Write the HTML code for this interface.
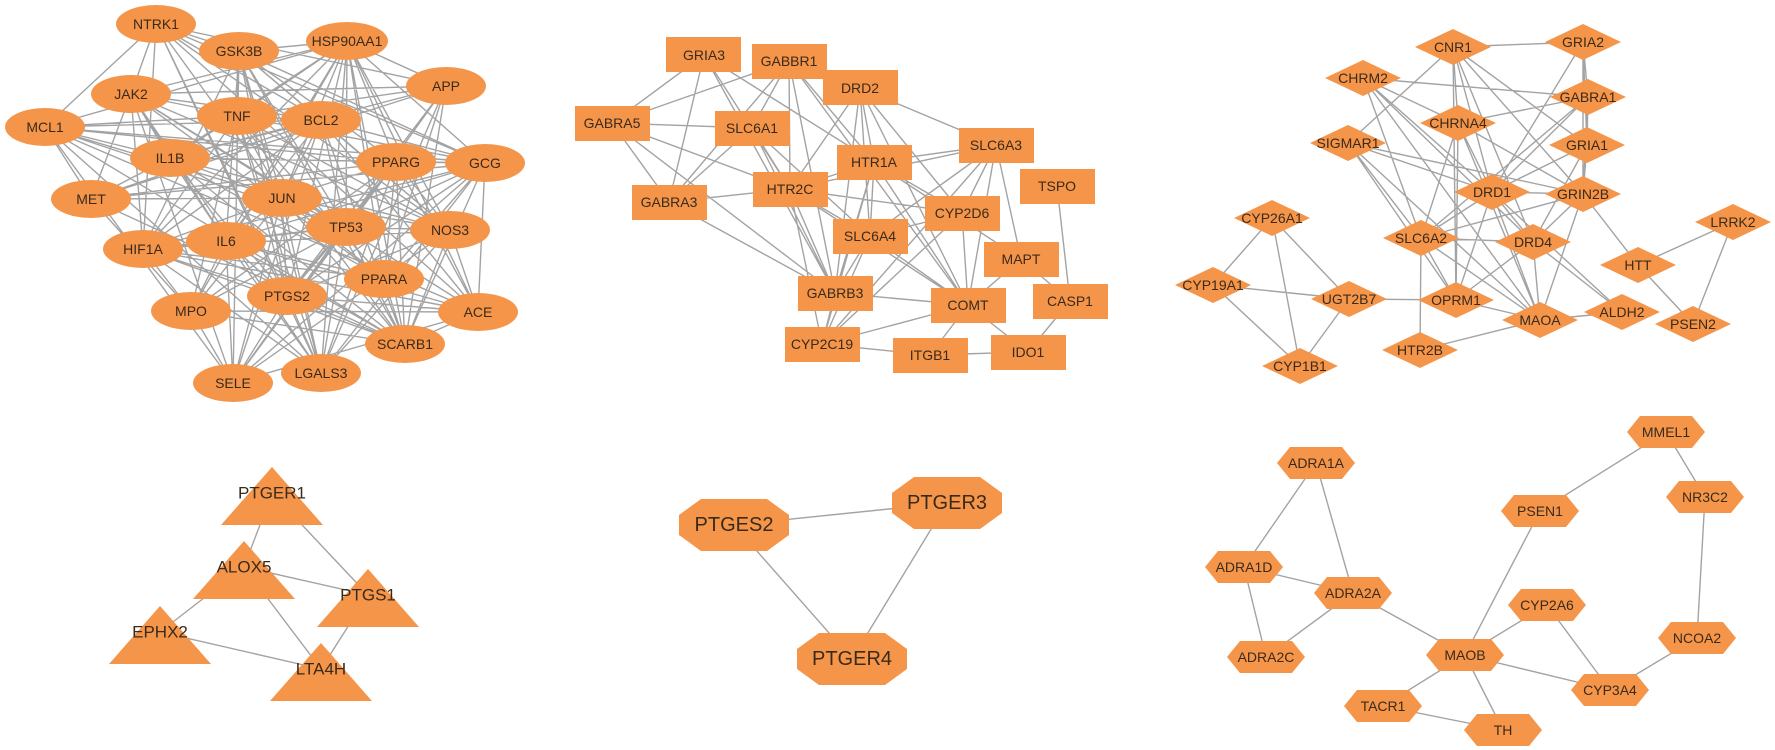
<!DOCTYPE html>
<html><head><meta charset="utf-8">
<style>
html,body{margin:0;padding:0;background:#fff;}
svg{display:block;}
text{font-family:"Liberation Sans",Arial,sans-serif;fill:#3a2a1a;text-anchor:middle;dominant-baseline:central;}
.n{fill:#F4954A;}
.s14{font-size:14px;}
.s17{font-size:17px;}
.s20{font-size:20px;}
</style></head><body>
<svg id="s" width="1775" height="750" viewBox="0 0 1775 750" xmlns="http://www.w3.org/2000/svg">
<g id="edges" stroke="#a3a3a3" stroke-width="1.4" fill="none"></g>
<g id="nodes">
<!-- cluster 1 ellipses -->
<g class="s14">
<ellipse class="n" cx="156" cy="24" rx="40" ry="19"/><text x="156" y="24">NTRK1</text>
<ellipse class="n" cx="239" cy="51" rx="40" ry="19"/><text x="239" y="51">GSK3B</text>
<ellipse class="n" cx="347" cy="41" rx="41" ry="19"/><text x="347" y="41">HSP90AA1</text>
<ellipse class="n" cx="131" cy="94" rx="40" ry="19"/><text x="131" y="94">JAK2</text>
<ellipse class="n" cx="45" cy="127" rx="40" ry="19"/><text x="45" y="127">MCL1</text>
<ellipse class="n" cx="237" cy="116" rx="40" ry="19"/><text x="237" y="116">TNF</text>
<ellipse class="n" cx="321" cy="120" rx="40" ry="19"/><text x="321" y="120">BCL2</text>
<ellipse class="n" cx="446" cy="86" rx="40" ry="19"/><text x="446" y="86">APP</text>
<ellipse class="n" cx="170" cy="158" rx="40" ry="19"/><text x="170" y="158">IL1B</text>
<ellipse class="n" cx="396" cy="162" rx="40" ry="19"/><text x="396" y="162">PPARG</text>
<ellipse class="n" cx="485" cy="163" rx="40" ry="19"/><text x="485" y="163">GCG</text>
<ellipse class="n" cx="91" cy="199" rx="40" ry="19"/><text x="91" y="199">MET</text>
<ellipse class="n" cx="282" cy="198" rx="40" ry="19"/><text x="282" y="198">JUN</text>
<ellipse class="n" cx="346" cy="227" rx="40" ry="19"/><text x="346" y="227">TP53</text>
<ellipse class="n" cx="450" cy="230" rx="40" ry="19"/><text x="450" y="230">NOS3</text>
<ellipse class="n" cx="143" cy="249" rx="40" ry="19"/><text x="143" y="249">HIF1A</text>
<ellipse class="n" cx="226" cy="241" rx="40" ry="19"/><text x="226" y="241">IL6</text>
<ellipse class="n" cx="384" cy="279" rx="40" ry="19"/><text x="384" y="279">PPARA</text>
<ellipse class="n" cx="287" cy="296" rx="40" ry="19"/><text x="287" y="296">PTGS2</text>
<ellipse class="n" cx="191" cy="311" rx="40" ry="19"/><text x="191" y="311">MPO</text>
<ellipse class="n" cx="478" cy="312" rx="40" ry="19"/><text x="478" y="312">ACE</text>
<ellipse class="n" cx="405" cy="344" rx="40" ry="19"/><text x="405" y="344">SCARB1</text>
<ellipse class="n" cx="233" cy="383" rx="40" ry="19"/><text x="233" y="383">SELE</text>
<ellipse class="n" cx="321" cy="373" rx="40" ry="19"/><text x="321" y="373">LGALS3</text>
</g>
<!-- cluster 2 rects 75x35 -->
<g class="s14">
<rect class="n" x="666" y="37" width="75" height="35"/><text x="704" y="55">GRIA3</text>
<rect class="n" x="752" y="44" width="75" height="35"/><text x="789" y="61">GABBR1</text>
<rect class="n" x="823" y="70" width="75" height="35"/><text x="860" y="88">DRD2</text>
<rect class="n" x="575" y="106" width="75" height="35"/><text x="612" y="123">GABRA5</text>
<rect class="n" x="715" y="111" width="75" height="35"/><text x="752" y="128">SLC6A1</text>
<rect class="n" x="837" y="145" width="75" height="35"/><text x="874" y="162">HTR1A</text>
<rect class="n" x="753" y="172" width="75" height="35"/><text x="790" y="189">HTR2C</text>
<rect class="n" x="632" y="185" width="75" height="35"/><text x="669" y="202">GABRA3</text>
<rect class="n" x="833" y="219" width="75" height="35"/><text x="870" y="236">SLC6A4</text>
<rect class="n" x="798" y="276" width="75" height="35"/><text x="835" y="293">GABRB3</text>
<rect class="n" x="959" y="128" width="75" height="35"/><text x="996" y="145">SLC6A3</text>
<rect class="n" x="1020" y="169" width="75" height="35"/><text x="1057" y="186">TSPO</text>
<rect class="n" x="925" y="196" width="75" height="35"/><text x="962" y="213">CYP2D6</text>
<rect class="n" x="984" y="242" width="75" height="35"/><text x="1021" y="259">MAPT</text>
<rect class="n" x="1033" y="284" width="75" height="35"/><text x="1070" y="301">CASP1</text>
<rect class="n" x="931" y="288" width="75" height="35"/><text x="968" y="305">COMT</text>
<rect class="n" x="991" y="335" width="75" height="35"/><text x="1028" y="352">IDO1</text>
<rect class="n" x="893" y="338" width="75" height="35"/><text x="930" y="355">ITGB1</text>
<rect class="n" x="785" y="327" width="75" height="35"/><text x="822" y="344">CYP2C19</text>
</g>
<!-- cluster 3 diamonds -->
<g class="s14" id="dia"></g>
<!-- triangles -->
<g class="s17" id="tri"></g>
<!-- octagons -->
<g class="s20" id="oct"></g>
<!-- hexagons -->
<g class="s14" id="hex"></g>
</g>
</svg>
<svg width="0" height="0" style="position:absolute">
</svg>
<div style="display:none">
CNR1 CHRM2 CHRNA4 SIGMAR1 DRD1 SLC6A2 DRD4 CYP26A1 CYP19A1 UGT2B7 OPRM1 MAOA GRIA2 GABRA1 GRIA1 GRIN2B LRRK2 HTT ALDH2 PSEN2 HTR2B CYP1B1
PTGER1 ALOX5 PTGS1 EPHX2 LTA4H PTGES2 PTGER3 PTGER4
ADRA1A MMEL1 NR3C2 PSEN1 ADRA1D ADRA2A CYP2A6 NCOA2 ADRA2C MAOB CYP3A4 TACR1 TH
</div>
<script>
var NS="http://www.w3.org/2000/svg";
var P={};
// collect cluster1/2 positions from static text
document.querySelectorAll('#nodes text').forEach(function(t){P[t.textContent]=[+t.getAttribute('x'),+t.getAttribute('y')];});
var dia={CNR1:[1453,47],CHRM2:[1363,78],CHRNA4:[1458,123],SIGMAR1:[1348,143],DRD1:[1492,192],SLC6A2:[1421,238],DRD4:[1533,242],CYP26A1:[1272,218],CYP19A1:[1213,285],UGT2B7:[1349,299],OPRM1:[1456,300],MAOA:[1540,320],GRIA2:[1583,42],GABRA1:[1588,97],GRIA1:[1587,145],GRIN2B:[1583,194],LRRK2:[1733,222],HTT:[1638,265],ALDH2:[1622,312],PSEN2:[1693,324],HTR2B:[1420,350],CYP1B1:[1300,366]};
var tri={PTGER1:[272,493],ALOX5:[244,567],PTGS1:[368,595],EPHX2:[160,632],LTA4H:[321,669]};
var oct={PTGES2:[734,525],PTGER3:[947,503],PTGER4:[852,659]};
var hex={ADRA1A:[1316,463],MMEL1:[1666,432],NR3C2:[1705,497],PSEN1:[1540,511],ADRA1D:[1244,567],ADRA2A:[1353,593],CYP2A6:[1547,605],NCOA2:[1697,638],ADRA2C:[1266,657],MAOB:[1465,655],CYP3A4:[1610,690],TACR1:[1383,706],TH:[1503,730]};
function poly(g,name,c,pts){var p=document.createElementNS(NS,'polygon');p.setAttribute('class','n');p.setAttribute('points',pts.map(function(q){return (c[0]+q[0])+','+(c[1]+q[1]);}).join(' '));g.appendChild(p);var t=document.createElementNS(NS,'text');t.setAttribute('x',c[0]);t.setAttribute('y',c[1]);t.textContent=name;g.appendChild(t);P[name]=c;}
var g=document.getElementById('dia');for(var k in dia)poly(g,k,dia[k],[[0,-18],[38,0],[0,18],[-38,0]]);
g=document.getElementById('tri');for(k in tri)poly(g,k,tri[k],[[0,-26],[51,32],[-51,32]]);
g=document.getElementById('oct');for(k in oct)poly(g,k,oct[k],[[-33,-26],[33,-26],[55,-10],[55,10],[33,26],[-33,26],[-55,10],[-55,-10]]);
g=document.getElementById('hex');for(k in hex)poly(g,k,hex[k],[[-26,-16],[26,-16],[39,0],[26,16],[-26,16],[-39,0]]);
var E=[];
var c1=["NTRK1","GSK3B","HSP90AA1","JAK2","MCL1","TNF","BCL2","APP","IL1B","PPARG","GCG","MET","JUN","TP53","NOS3","HIF1A","IL6","PPARA","PTGS2","MPO","ACE","SCARB1","SELE","LGALS3"];
var seed=7;function rnd(){seed=(seed*16807)%2147483647;return seed/2147483647;}
for(var i=0;i<c1.length;i++)for(var j=i+1;j<c1.length;j++){if(rnd()<0.68)E.push([c1[i],c1[j]]);}
function add(a,list){list.split(' ').forEach(function(b){E.push([a,b]);});}
add("GRIA3","GABRA5 GABRA3 HTR2C HTR1A GABRB3");
add("GABBR1","GABRA5 SLC6A1 GABRA3 HTR1A HTR2C COMT GABRB3");
add("DRD2","HTR2C HTR1A SLC6A4 SLC6A3 CYP2D6 COMT GABRB3");
add("GABRA5","SLC6A1 HTR2C GABRA3 GABRB3");
add("SLC6A1","GABRA3 HTR2C GABRB3 SLC6A4");
add("HTR1A","HTR2C SLC6A3 SLC6A4 CYP2D6 COMT GABRB3 CYP2C19 MAPT");
add("HTR2C","GABRA3 SLC6A4 CYP2D6 COMT GABRB3 CYP2C19 SLC6A3");
add("GABRA3","GABRB3");
add("SLC6A3","CYP2D6 COMT SLC6A4 MAPT CYP2C19");
add("SLC6A4","CYP2D6 COMT GABRB3 CYP2C19");
add("CYP2D6","COMT CYP2C19");
add("TSPO","CASP1");add("MAPT","CASP1 COMT");add("CASP1","IDO1");
add("COMT","IDO1 ITGB1 CYP2C19");add("ITGB1","IDO1 CYP2C19");add("GABRB3","CYP2C19 COMT");
add("CNR1","GRIA2 CHRNA4 DRD1 SIGMAR1 GRIN2B GRIA1 DRD4 OPRM1");
add("CHRM2","GABRA1 CHRNA4 DRD1 SLC6A2 MAOA DRD4");
add("CHRNA4","GABRA1 DRD1 OPRM1 SLC6A2 GRIN2B MAOA");
add("SIGMAR1","DRD1 SLC6A2 OPRM1 GRIN2B MAOA");
add("GRIA2","GABRA1 GRIA1 GRIN2B DRD1");
add("GABRA1","GRIA1 GRIN2B DRD1 SLC6A2");
add("GRIA1","GRIN2B DRD1 DRD4");
add("GRIN2B","DRD1 DRD4 MAOA HTT SLC6A2");
add("DRD1","SLC6A2 DRD4 OPRM1 MAOA ALDH2");
add("SLC6A2","DRD4 OPRM1 MAOA HTR2B");
add("DRD4","OPRM1 MAOA ALDH2");
add("OPRM1","UGT2B7 MAOA");add("MAOA","ALDH2 HTR2B");
add("HTT","LRRK2 PSEN2");add("LRRK2","PSEN2");
add("CYP26A1","CYP19A1 UGT2B7 CYP1B1");add("CYP19A1","UGT2B7 CYP1B1");add("UGT2B7","CYP1B1");
add("PTGER1","ALOX5 PTGS1");add("ALOX5","PTGS1 EPHX2 LTA4H");add("PTGS1","LTA4H");add("EPHX2","LTA4H");
add("PTGES2","PTGER3 PTGER4");add("PTGER3","PTGER4");
add("ADRA1A","ADRA1D ADRA2A");add("ADRA1D","ADRA2A ADRA2C");add("ADRA2A","ADRA2C MAOB");
add("MAOB","PSEN1 CYP2A6 CYP3A4 TACR1 TH");add("PSEN1","MMEL1");add("MMEL1","NR3C2");add("NR3C2","NCOA2");
add("NCOA2","CYP3A4");add("CYP2A6","CYP3A4");add("TACR1","TH");
var d="";E.forEach(function(e){var a=P[e[0]],b=P[e[1]];if(a&&b)d+="M"+a[0]+" "+a[1]+"L"+b[0]+" "+b[1];});
var path=document.createElementNS(NS,'path');path.setAttribute('d',d);document.getElementById('edges').appendChild(path);
</script>
</body></html>
